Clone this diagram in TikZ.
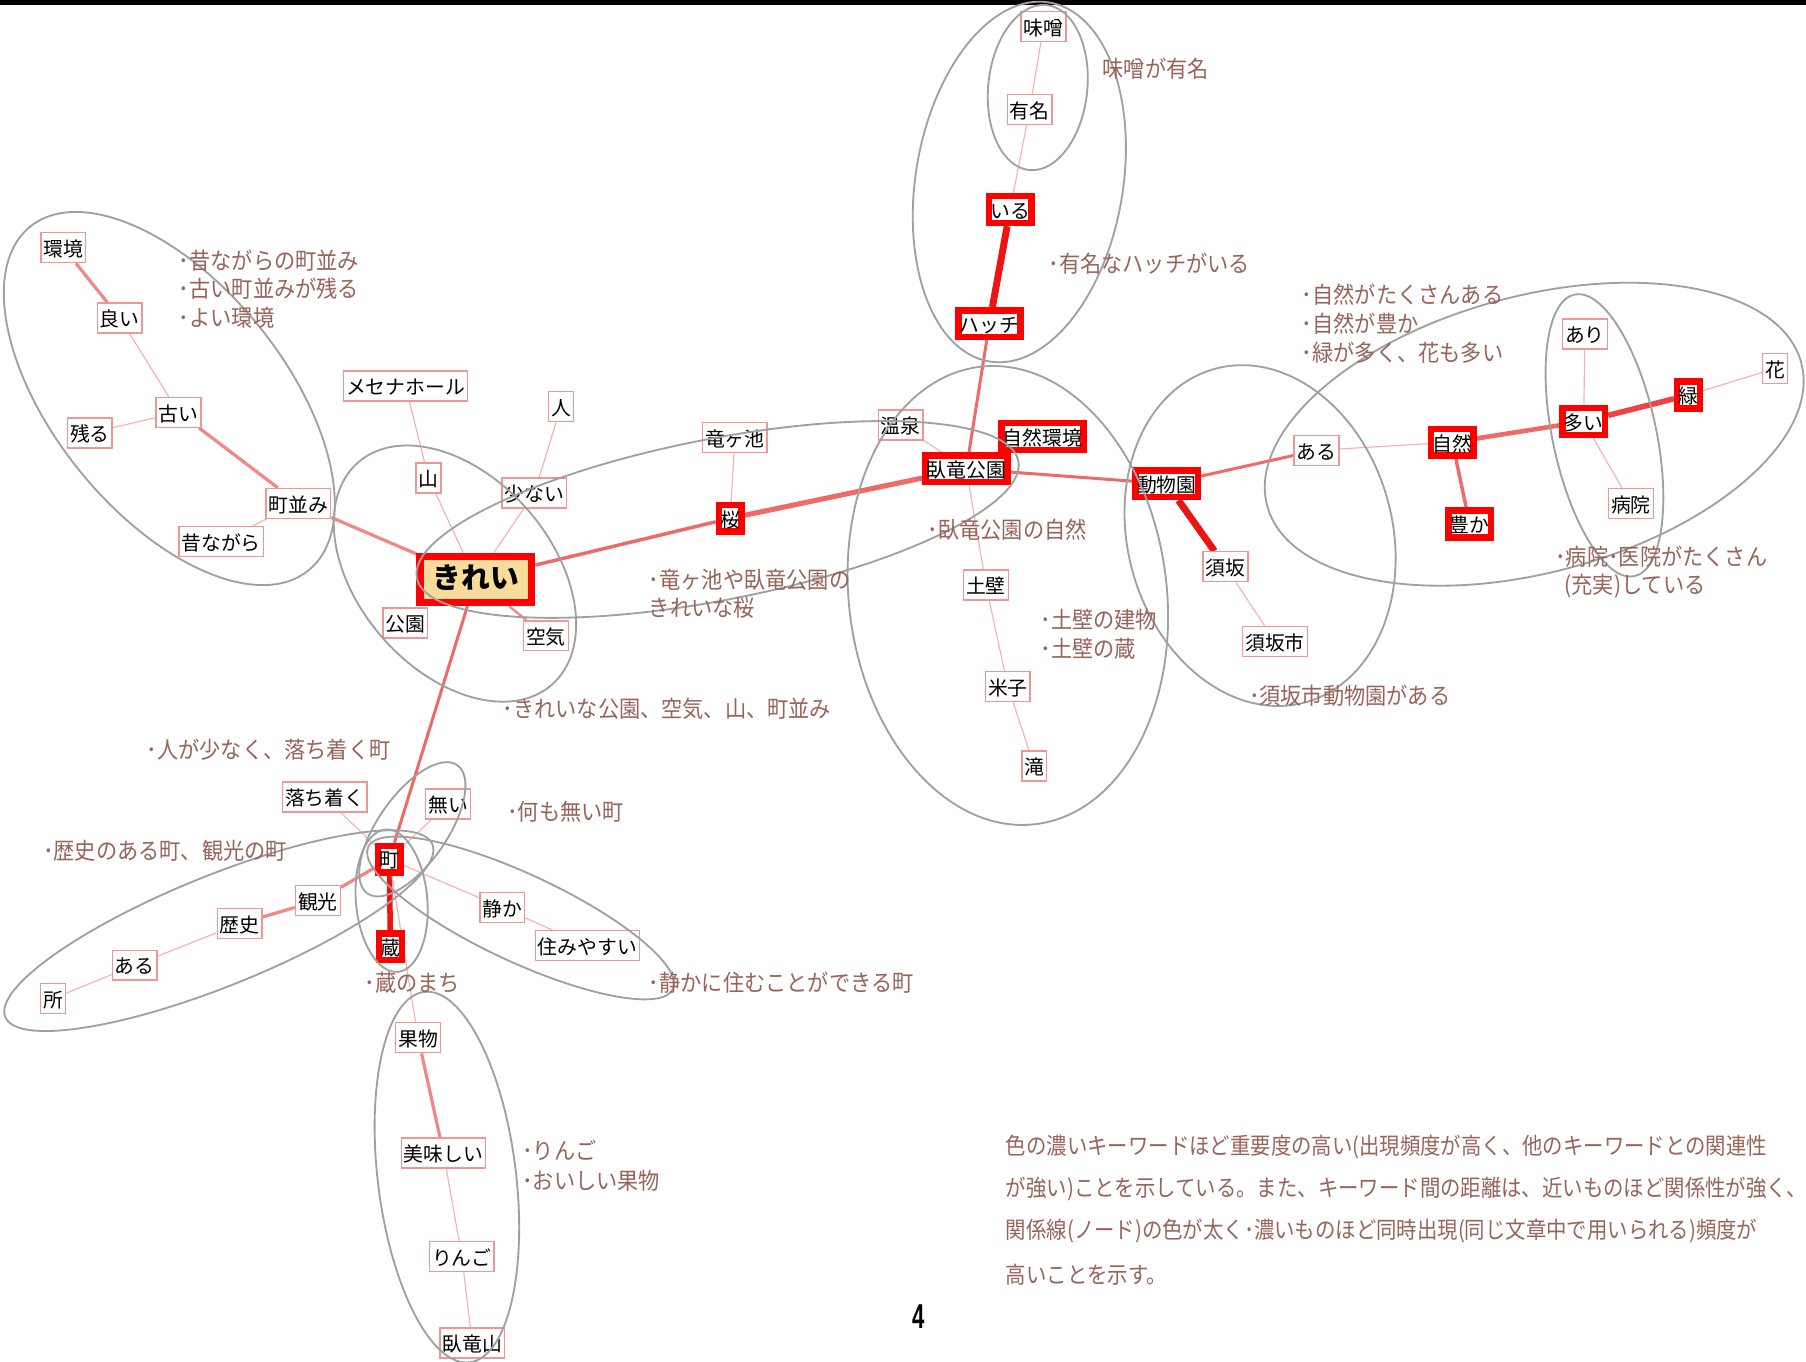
\documentclass[tikz,border=0pt]{standalone}
\usepackage{fontspec}
\setmainfont{Noto Sans CJK JP}
\newfontfamily\annofont[FakeStretch=0.92]{Noto Sans CJK JP}
\newfontfamily\parafont[FakeStretch=0.885]{Noto Sans CJK JP}
\newfontfamily\numfont[FakeStretch=0.64]{Liberation Sans}
\definecolor{kwb}{RGB}{240,150,150}
\definecolor{redb}{RGB}{255,0,0}
\definecolor{mainfill}{RGB}{248,220,155}
\definecolor{thinc}{RGB}{246,178,178}
\definecolor{midc}{RGB}{240,105,105}
\definecolor{lightc}{RGB}{242,135,135}
\definecolor{thickc}{RGB}{236,20,20}
\definecolor{ellc}{RGB}{160,160,160}
\definecolor{annoc}{RGB}{152,100,90}
\pgfdeclarelayer{bg}
\pgfdeclarelayer{edges}
\pgfsetlayers{bg,edges,main}
\tikzset{
  kw/.style={draw=kwb, line width=0.6pt, fill=white,
    font=\fontsize{8.6}{10}\selectfont, text height=0.88em, text depth=0.12em,
    inner xsep=1.1pt, inner ysep=1.5pt},
  kwr/.style={kw, draw=redb, line width=2.8pt, inner xsep=0.6pt, inner ysep=0.8pt},
  mainkw/.style={draw=redb, line width=3.2pt, fill=mainfill,
    font=\fontsize{12.5}{14}\bfseries\selectfont, text height=0.88em, text depth=0.12em,
    inner xsep=5.5pt, inner ysep=5pt},
  thin/.style={draw=thinc, line width=0.5pt},
  mid/.style={draw=midc, line width=1.3pt},
  light/.style={draw=lightc, line width=1.4pt},
  thick/.style={draw=thickc, line width=3pt},
  ell/.style={draw=ellc, line width=0.8pt},
  anno/.style={font=\annofont\fontsize{10}{12}\selectfont, text=annoc, anchor=west,
    inner sep=0pt, text height=0.88em, text depth=0.12em},
  para/.style={anno, font=\parafont\fontsize{10}{12}\selectfont},
}
\begin{document}
\begin{tikzpicture}[x=0.5pt,y=-0.5pt]
\clip (0,0) rectangle (1568,1182);
\begin{pgfonlayer}{bg}
\fill[white] (0,0) rectangle (1568,1182);
\fill[black] (0,0) rectangle (1568,4);
\end{pgfonlayer}

% ---- nodes: top
\node[kw] (miso) at (906,23) {味噌};
\node[kw] (yumei) at (894,95) {有名};
\node[kwr] (iru) at (877,182) {いる};
\node[kwr] (hacchi) at (859,281) {ハッチ};
% ---- left
\node[kw] (kankyo) at (55,215) {環境};
\node[kw] (yoi) at (104,276) {良い};
\node[kw] (furui) at (155,358) {古い};
\node[kw] (nokoru) at (78,376) {残る};
\node[kw] (machinami) at (259,437) {町並み};
\node[kw] (mukashi) at (192,470) {昔ながら};
% ---- center
\node[mainkw] (kirei) at (413,503) {きれい};
\node[kw] (mesena) at (352,335) {メセナホール};
\node[kw] (hito) at (487,353) {人};
\node[kw] (yama) at (372,415) {山};
\node[kw] (sukunai) at (464,428) {少ない};
\node[kw] (koen) at (352,541) {公園};
\node[kw] (kuki) at (474,552) {空気};
% ---- middle
\node[kw] (ryugaike) at (638,380) {竜ヶ池};
\node[kwr] (sakura) at (634,450) {桜};
\node[kw] (onsen) at (782,369) {温泉};
\node[kwr] (shizenkankyo) at (905,379) {自然環境};
\node[kwr] (garyu) at (839,407) {臥竜公園};
\node[kw] (tsuchikabe) at (856,508) {土壁};
\node[kw] (yonago) at (875,596) {米子};
\node[kw] (taki) at (898,665) {滝};
% ---- zoo
\node[kwr] (dobutsuen) at (1013,420) {動物園};
\node[kw] (suzaka) at (1064,492) {須坂};
\node[kw] (suzakashi) at (1107,557) {須坂市};
\node[kw] (aru) at (1143,391) {ある};
% ---- nature
\node[kwr] (shizen) at (1261,384) {自然};
\node[kwr] (yutaka) at (1276,455) {豊か};
\node[kwr] (oi) at (1375,366) {多い};
\node[kwr] (midori) at (1466,343) {緑};
\node[kw] (hana) at (1541,320) {花};
\node[kw] (ari) at (1376,290) {あり};
\node[kw] (byoin) at (1416,437) {病院};
% ---- machi
\node[kwr] (machi) at (338,746) {町};
\node[kwr] (kura) at (339,822) {蔵};
\node[kw] (ochitsuku) at (282,692) {落ち着く};
\node[kw] (nai) at (389,698) {無い};
\node[kw] (kanko) at (276,782) {観光};
\node[kw] (rekishi) at (208,802) {歴史};
\node[kw] (aru2) at (117,838) {ある};
\node[kw] (tokoro) at (46,867) {所};
\node[kw] (shizuka) at (436,788) {静か};
\node[kw] (sumiyasui) at (510,821) {住みやすい};
% ---- fruit
\node[kw] (kudamono) at (363,901) {果物};
\node[kw] (oishii) at (385,1001) {美味しい};
\node[kw] (ringo) at (401,1091) {りんご};
\node[kw] (garyusan) at (410,1166) {臥竜山};

% ---- connectors
\begin{pgfonlayer}{edges}
\draw[thin] (miso) -- (yumei);
\draw[thin] (yumei) -- (iru);
\draw[thick] (iru) -- (hacchi);
\draw[mid] (hacchi) -- (garyu);
\draw[light] (kankyo) -- (yoi);
\draw[thin] (yoi) -- (furui);
\draw[thin] (furui) -- (nokoru);
\draw[light] (furui) -- (machinami);
\draw[thin] (machinami) -- (mukashi);
\draw[light] (machinami) -- (kirei);
\draw[thin] (mesena) -- (yama);
\draw[thin] (yama) -- (kirei);
\draw[thin] (hito) -- (sukunai);
\draw[thin] (sukunai) -- (kirei);
\draw[light, line width=1pt] (kirei) -- (kuki);
\draw[mid, line width=1.5pt] (kirei) -- (sakura);
\draw[mid, line width=2.2pt] (sakura) -- (garyu);
\draw[thin] (ryugaike) -- (sakura);
\draw[thin] (onsen) -- (garyu);
\draw[thin] (garyu) -- (tsuchikabe);
\draw[thin] (tsuchikabe) -- (yonago);
\draw[thin] (yonago) -- (taki);
\draw[mid] (garyu) -- (dobutsuen);
\draw[thick] (dobutsuen) -- (suzaka);
\draw[thin] (suzaka) -- (suzakashi);
\draw[mid] (dobutsuen) -- (aru);
\draw[thin] (aru) -- (shizen);
\draw[mid, line width=1.5pt] (shizen) -- (yutaka);
\draw[mid, line width=2pt] (shizen) -- (oi);
\draw[mid, line width=2.4pt, draw=thickc!80!white] (oi) -- (midori);
\draw[thin] (midori) -- (hana);
\draw[thin] (ari) -- (oi);
\draw[thin] (oi) -- (byoin);
\draw[mid] (kirei) -- (machi);
\draw[thick, line width=2.4pt] (machi) -- (kura);
\draw[thin] (ochitsuku) -- (machi);
\draw[thin] (nai) -- (machi);
\draw[light] (machi) -- (kanko);
\draw[light] (kanko) -- (rekishi);
\draw[thin] (rekishi) -- (aru2);
\draw[thin] (aru2) -- (tokoro);
\draw[thin] (machi) -- (shizuka);
\draw[thin] (shizuka) -- (sumiyasui);
\draw[thin] (machi) -- (kudamono);
\draw[light] (kudamono) -- (oishii);
\draw[thin] (oishii) -- (ringo);
\draw[thin] (ringo) -- (garyusan);
\end{pgfonlayer}

% ---- cluster ellipses
\draw[ell, rotate around={84:(901,76)}] (901,76) ellipse [x radius=72, y radius=43];
\draw[ell, rotate around={80.5:(885,158)}] (885,158) ellipse [x radius=158, y radius=90];
\draw[ell, rotate around={-51:(147,346)}] (147,346) ellipse [x radius=192, y radius=100];
\draw[ell, rotate around={-49:(395,498)}] (395,498) ellipse [x radius=128, y radius=84];
\draw[ell, rotate around={11:(623,451)}] (623,451) ellipse [x radius=266, y radius=70];
\draw[ell, rotate around={97:(875,517)}] (875,517) ellipse [x radius=200, y radius=138];
\draw[ell, rotate around={105:(1094,465)}] (1094,465) ellipse [x radius=150, y radius=115];
\draw[ell, rotate around={15:(1332,377)}] (1332,377) ellipse [x radius=240, y radius=120];
\draw[ell, rotate around={102:(1393,378)}] (1393,378) ellipse [x radius=125, y radius=45];
\draw[ell, rotate around={55:(358,720)}] (358,720) ellipse [x radius=68, y radius=30];
\draw[ell, rotate around={22:(190,808)}] (190,808) ellipse [x radius=200, y radius=48];
\draw[ell, rotate around={95:(340,782)}] (340,782) ellipse [x radius=62, y radius=31];
\draw[ell, rotate around={-25:(452,797)}] (452,797) ellipse [x radius=146, y radius=38];
\draw[ell, rotate around={97:(388,1022)}] (388,1022) ellipse [x radius=162, y radius=60];

% ---- annotations
\node[anno] (t1) at (957,60) {味噌が有名};
\node[anno] (t2) at (910,229) {･有名なハッチがいる};
\node[anno] (t3a) at (155,226) {･昔ながらの町並み};
\node[anno] (t3b) at (155,251) {･古い町並みが残る};
\node[anno] (t3c) at (155,276) {･よい環境};
\node[anno] (t4a) at (1130,256) {･自然がたくさんある};
\node[anno] (t4b) at (1130,281) {･自然が豊か};
\node[anno] (t4c) at (1130,306) {･緑が多く、花も多い};
\node[anno] (t5a) at (563,503) {･竜ヶ池や臥竜公園の};
\node[anno] (t5b) at (563,528) {きれいな桜};
\node[anno] (t6) at (805,460) {･臥竜公園の自然};
\node[anno] (t7a) at (903,538) {･土壁の建物};
\node[anno] (t7b) at (903,563) {･土壁の蔵};
\node[anno] (t8) at (1084,604) {･須坂市動物園がある};
\node[anno] (t9a) at (1350,483) {･病院･医院がたくさん};
\node[anno] (t9b) at (1358,508) {(充実)している};
\node[anno] (t10) at (436,615) {･きれいな公園、空気、山、町並み};
\node[anno] (t11) at (127,651) {･人が少なく、落ち着く町};
\node[anno] (t12) at (440,705) {･何も無い町};
\node[anno] (t13) at (37,739) {･歴史のある町、観光の町};
\node[anno] (t14) at (316,853) {･蔵のまち};
\node[anno] (t15) at (563,853) {･静かに住むことができる町};
\node[anno] (t16a) at (453,999) {･りんご};
\node[anno] (t16b) at (453,1025) {･おいしい果物};
\node[para] (p1) at (873,995) {色の濃いキーワードほど重要度の高い(出現頻度が高く、他のキーワードとの関連性};
\node[para] (p2) at (873,1031) {が強い)ことを示している。また、キーワード間の距離は、近いものほど関係性が強く、};
\node[para] (p3) at (873,1068) {関係線(ノード)の色が太く･濃いものほど同時出現(同じ文章中で用いられる)頻度が};
\node[para] (p4) at (873,1107) {高いことを示す。};
\node[font=\numfont\bfseries\fontsize{15}{18}\selectfont, inner sep=0pt] (pg) at (798,1143) {4};
\end{tikzpicture}
\end{document}
